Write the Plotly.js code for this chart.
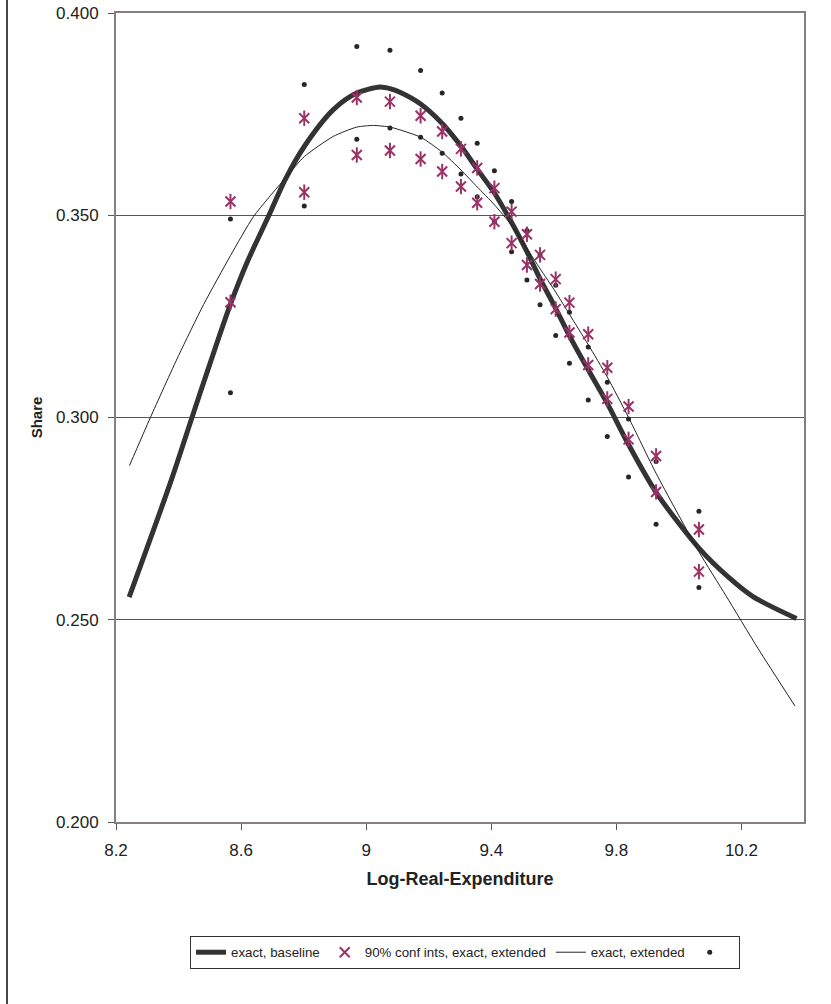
<!DOCTYPE html>
<html>
<head>
<meta charset="utf-8">
<script src="https://cdn.plot.ly/plotly-3.0.1.min.js"></script>
<style>
  html, body { margin: 0; padding: 0; background: #ffffff; }
  #chart { width: 831px; height: 1004px; }
</style>
</head>
<body>
<div id="chart"></div>
<script>
// ---- data ----
const xGroups  = [8.566, 8.802, 8.970, 9.076, 9.174, 9.243, 9.303, 9.355, 9.410, 9.465, 9.514, 9.556, 9.606, 9.650, 9.710, 9.771, 9.839, 9.927, 10.064];
const astUpper = [0.3534, 0.3740, 0.3791, 0.3781, 0.3746, 0.3707, 0.3664, 0.3617, 0.3567, 0.3509, 0.3453, 0.3402, 0.3342, 0.3284, 0.3206, 0.3123, 0.3027, 0.2905, 0.2723];
const astLower = [0.3285, 0.3557, 0.3649, 0.3660, 0.3639, 0.3608, 0.3571, 0.3531, 0.3484, 0.3431, 0.3377, 0.3330, 0.3268, 0.3210, 0.3130, 0.3046, 0.2946, 0.2816, 0.2619];
const dotUpper = [0.3491, 0.3823, 0.3917, 0.3908, 0.3858, 0.3802, 0.3740, 0.3678, 0.3610, 0.3534, 0.3462, 0.3402, 0.3327, 0.3260, 0.3174, 0.3087, 0.2996, 0.2891, 0.2768];
const dotLower = [0.3061, 0.3523, 0.3688, 0.3716, 0.3693, 0.3653, 0.3602, 0.3546, 0.3484, 0.3410, 0.3340, 0.3279, 0.3203, 0.3134, 0.3043, 0.2953, 0.2853, 0.2736, 0.2580];

const baseX = [8.242, 8.379, 8.443, 8.500, 8.566, 8.620, 8.688, 8.741, 8.802, 8.895, 8.970, 9.044, 9.076, 9.108, 9.174, 9.243, 9.303, 9.355, 9.410, 9.465, 9.514, 9.556, 9.606, 9.650, 9.710, 9.771, 9.839, 9.927, 10.064, 10.163, 10.237, 10.376];
const baseY = [0.2556, 0.2850, 0.3000, 0.3132, 0.3280, 0.3385, 0.3498, 0.3588, 0.3670, 0.3761, 0.3802, 0.3817, 0.3813, 0.3804, 0.3775, 0.3727, 0.3671, 0.3614, 0.3555, 0.3482, 0.3410, 0.3343, 0.3270, 0.3202, 0.3118, 0.3035, 0.2933, 0.2815, 0.2677, 0.2602, 0.2557, 0.2503];

const extX = [8.243, 8.310, 8.400, 8.480, 8.566, 8.640, 8.746, 8.802, 8.895, 8.970, 9.023, 9.076, 9.108, 9.174, 9.243, 9.303, 9.355, 9.410, 9.465, 9.514, 9.556, 9.606, 9.650, 9.710, 9.771, 9.839, 9.927, 10.064, 10.150, 10.253, 10.371];
const extY = [0.2881, 0.3000, 0.3153, 0.3279, 0.3400, 0.3497, 0.3596, 0.3645, 0.3695, 0.3718, 0.3722, 0.3718, 0.3711, 0.3693, 0.3656, 0.3612, 0.3570, 0.3526, 0.3475, 0.3418, 0.3368, 0.3310, 0.3255, 0.3180, 0.3100, 0.3000, 0.2862, 0.2668, 0.2560, 0.2429, 0.2287];

const xTickVals = [8.2, 8.6, 9.0, 9.4, 9.8, 10.2];
const xTickText = ['8.2', '8.6', '9', '9.4', '9.8', '10.2'];
const yTickVals = [0.20, 0.25, 0.30, 0.35, 0.40];
const yTickText = ['0.200', '0.250', '0.300', '0.350', '0.400'];

const names = ['exact, baseline', '90% conf ints, exact, extended', 'exact, extended', ' '];

// ---- build traces ----
const astX = xGroups.concat(xGroups);
const astY = astUpper.concat(astLower);
const dotX = xGroups.concat(xGroups);
const dotY = dotUpper.concat(dotLower);

const FONT = 'Liberation Sans, Arial, sans-serif';
const PLUM = '#993366';

const traces = [
  { x: baseX, y: baseY, type: 'scatter', mode: 'lines', name: names[0], legendrank: 1,
    line: { color: '#333333', width: 5, shape: 'spline', smoothing: 0.8 } },
  { x: extX, y: extY, type: 'scatter', mode: 'lines', name: names[2], legendrank: 3,
    line: { color: '#222222', width: 1, shape: 'spline', smoothing: 0.6 } },
  { x: dotX, y: dotY, type: 'scatter', mode: 'markers', name: names[3], legendrank: 4,
    marker: { symbol: 'circle', size: 5, color: '#262626' } },
  { x: astX, y: astY, type: 'scatter', mode: 'markers', name: names[1], legendrank: 2,
    marker: { symbol: 'x-thin-open', size: 10, color: PLUM, line: { color: PLUM, width: 2 } } },
  { x: astX, y: astY, type: 'scatter', mode: 'markers', name: names[1], showlegend: false,
    marker: { symbol: 'line-ns-open', size: 11, color: PLUM, line: { color: PLUM, width: 2 } } }
];

const layout = {
  width: 831, height: 1004,
  margin: { l: 116, r: 27, t: 13, b: 182 },
  paper_bgcolor: '#ffffff', plot_bgcolor: '#ffffff',
  font: { family: FONT, color: '#222222' },
  showlegend: true,
  xaxis: {
    range: [8.2, 10.4], tickvals: xTickVals, ticktext: xTickText,
    showgrid: false, zeroline: false,
    showline: true, mirror: true, linecolor: '#867e7e', linewidth: 2,
    ticks: 'outside', ticklen: 6, tickwidth: 1, tickcolor: '#555555',
    ticklabelstandoff: 6,
    tickfont: { family: FONT, size: 17, color: '#222222' },
    title: { text: '<b>Log-Real-Expenditure</b>', standoff: 13,
             font: { family: FONT, size: 18, color: '#222222' } }
  },
  yaxis: {
    range: [0.2, 0.4], tickvals: yTickVals, ticktext: yTickText,
    showgrid: true, gridcolor: '#555555', gridwidth: 1, zeroline: false,
    showline: true, mirror: true, linecolor: '#867e7e', linewidth: 2,
    ticks: 'outside', ticklen: 6, tickwidth: 1, tickcolor: '#555555',
    ticklabelstandoff: 6,
    tickfont: { family: FONT, size: 17, color: '#222222' },
    title: { text: '<b>Share</b>', standoff: 10,
             font: { family: FONT, size: 15, color: '#222222' } }
  },
  legend: {
    orientation: 'h', x: 0.1076, y: -0.141, xanchor: 'left', yanchor: 'top',
    bgcolor: '#ffffff', bordercolor: '#333333', borderwidth: 1,
    font: { family: FONT, size: 13.3, color: '#222222' },
    itemwidth: 30, traceorder: 'normal'
  },
  shapes: [
    { type: 'line', xref: 'paper', yref: 'paper', x0: -0.1584, x1: -0.1584, y0: -0.3, y1: 1.1,
      line: { color: '#444444', width: 2 } }
  ]
};

Plotly.newPlot('chart', traces, layout, { displayModeBar: false, staticPlot: true });
</script>
</body>
</html>
